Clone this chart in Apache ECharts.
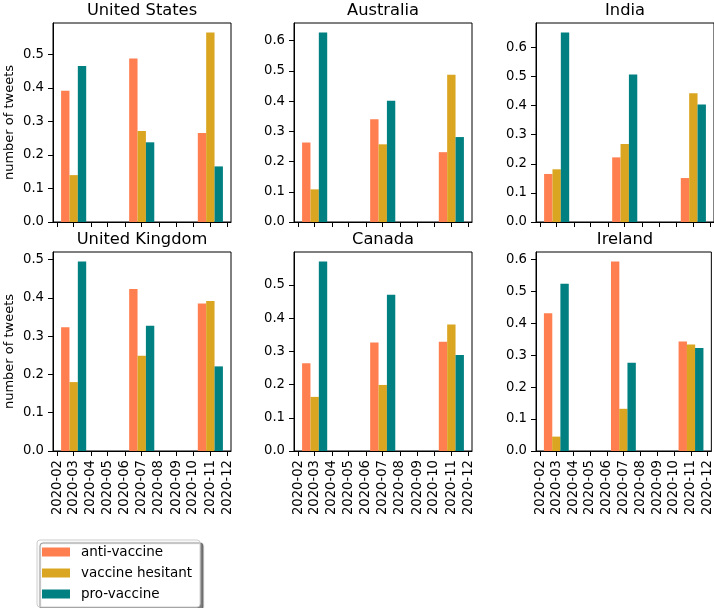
<!DOCTYPE html>
<html><head><meta charset="utf-8">
<script src="https://cdn.jsdelivr.net/npm/echarts@6/dist/echarts.min.js"></script>
<style>html,body{margin:0;padding:0;background:#fff}#c{width:714px;height:608px}</style>
</head><body><div id="c"></div>
<script>
// ---- data ----
const months = ['2020-03', '2020-07', '2020-11'];
const tickMonths = ['2020-02','2020-03','2020-04','2020-05','2020-06','2020-07','2020-08','2020-09','2020-10','2020-11','2020-12'];
const countries = ['United States', 'Australia', 'India', 'United Kingdom', 'Canada', 'Ireland'];
const seriesNames = ['anti-vaccine', 'vaccine hesitant', 'pro-vaccine'];

const usAnti = [0.392, 0.488, 0.266];
const usHesitant = [0.140, 0.272, 0.566];
const usPro = [0.466, 0.238, 0.166];

const auAnti = [0.263, 0.340, 0.231];
const auHesitant = [0.108, 0.257, 0.487];
const auPro = [0.627, 0.401, 0.281];

const inAnti = [0.165, 0.222, 0.151];
const inHesitant = [0.181, 0.268, 0.442];
const inPro = [0.651, 0.507, 0.404];

const ukAnti = [0.323, 0.423, 0.385];
const ukHesitant = [0.180, 0.249, 0.392];
const ukPro = [0.495, 0.327, 0.221];

const caAnti = [0.264, 0.327, 0.329];
const caHesitant = [0.163, 0.199, 0.381];
const caPro = [0.571, 0.471, 0.289];

const ieAnti = [0.431, 0.593, 0.343];
const ieHesitant = [0.045, 0.132, 0.333];
const iePro = [0.523, 0.276, 0.322];

const panelData = [
  [usAnti, usHesitant, usPro],
  [auAnti, auHesitant, auPro],
  [inAnti, inHesitant, inPro],
  [ukAnti, ukHesitant, ukPro],
  [caAnti, caHesitant, caPro],
  [ieAnti, ieHesitant, iePro]
];

// ---- styling / layout ----
const colors = ['#FF7F50', '#DAA520', '#008080'];
const FONT = 'DejaVu Sans';
const DAY = 86400000;
const BAR_DAYS = 15;
const gridLefts = [53, 294, 536];
const gridTops = [23, 252];
const GW = 178, GH = 199;

function monthTs(m) { const [y, mo] = m.split('-').map(Number); return Date.UTC(y, mo - 1, 1); }
const offsets = [-BAR_DAYS, 0, BAR_DAYS];
// x-extent like matplotlib: bar edges + 5% margin
const lo = monthTs(months[0]) + (offsets[0] - BAR_DAYS / 2) * DAY;
const hi = monthTs(months[months.length - 1]) + (offsets[2] + BAR_DAYS / 2) * DAY;
const xMin = lo - 0.05 * (hi - lo);
const xMax = hi + 0.05 * (hi - lo);
const barWidth = BAR_DAYS * DAY / (xMax - xMin) * GW;
const xTicks = tickMonths.map(monthTs);

function fmtMonth(v) {
  const d = new Date(v);
  return d.getUTCFullYear() + '-' + String(d.getUTCMonth() + 1).padStart(2, '0');
}

const grids = [], xAxes = [], yAxes = [], series = [], titles = [];
countries.forEach((name, i) => {
  const row = Math.floor(i / 3), col = i % 3;
  grids.push({ left: gridLefts[col], top: gridTops[row], width: GW, height: GH,
    show: true, borderColor: '#000', borderWidth: 1, backgroundColor: 'transparent' });
  titles.push({ text: name, left: gridLefts[col] + GW / 2, top: gridTops[row] - 20, textAlign: 'center', padding: 0,
    textStyle: { fontFamily: FONT, fontSize: 16.3, fontWeight: 'normal', color: '#000' } });
  xAxes.push({ type: 'value', gridIndex: i, min: xMin, max: xMax,
    axisLine: { show: true, lineStyle: { color: '#000', width: 1 } },
    axisTick: { show: true, length: 5, customValues: xTicks, lineStyle: { color: '#000', width: 1 } },
    axisLabel: { show: row === 1, customValues: xTicks, rotate: 90, margin: 9, formatter: fmtMonth,
      fontFamily: FONT, fontSize: 13.2, color: '#000' },
    splitLine: { show: false } });
  const vals = panelData[i];
  const vmax = Math.max(...vals.flat());
  const yMax = vmax * 1.05;
  const yTicks = [];
  for (let k = 0; k <= Math.floor(yMax * 10 + 1e-9); k++) yTicks.push(k / 10);
  yAxes.push({ type: 'value', gridIndex: i, min: 0, max: yMax,
    name: col === 0 ? 'number of tweets' : '', nameLocation: 'middle', nameGap: 37,
    nameTextStyle: { fontFamily: FONT, fontSize: 13, color: '#000' },
    axisLine: { show: true, lineStyle: { color: '#000', width: 1 } },
    axisTick: { show: true, length: 5, customValues: yTicks, lineStyle: { color: '#000', width: 1 } },
    axisLabel: { customValues: yTicks, margin: 9, formatter: v => v.toFixed(1),
      fontFamily: FONT, fontSize: 13.2, color: '#000' },
    splitLine: { show: false } });
  seriesNames.forEach((sn, s) => {
    series.push({ type: 'bar', name: sn, xAxisIndex: i, yAxisIndex: i,
      barWidth: barWidth, barGap: '-100%',
      itemStyle: { color: colors[s] },
      data: months.map((m, j) => [monthTs(m) + offsets[s] * DAY, vals[s][j]]) });
  });
});

const chart = echarts.init(document.getElementById('c'), null, { renderer: 'canvas' });
chart.setOption({
  animation: false,
  backgroundColor: '#fff',
  color: colors,
  title: titles,
  grid: grids,
  xAxis: xAxes,
  yAxis: yAxes,
  legend: { data: seriesNames, orient: 'vertical', left: 37, top: 540, padding: [5, 8, 6, 5],
    itemGap: 7, itemWidth: 28, itemHeight: 9, icon: 'rect',
    backgroundColor: '#fff', borderColor: '#cccccc', borderWidth: 1, borderRadius: 3,
    shadowColor: 'rgba(0,0,0,0.5)', shadowOffsetX: 3, shadowOffsetY: 3, shadowBlur: 1,
    textStyle: { fontFamily: FONT, fontSize: 13.5, color: '#000', padding: [0, 0, 0, 6] } },
  series: series
});
</script></body></html>
